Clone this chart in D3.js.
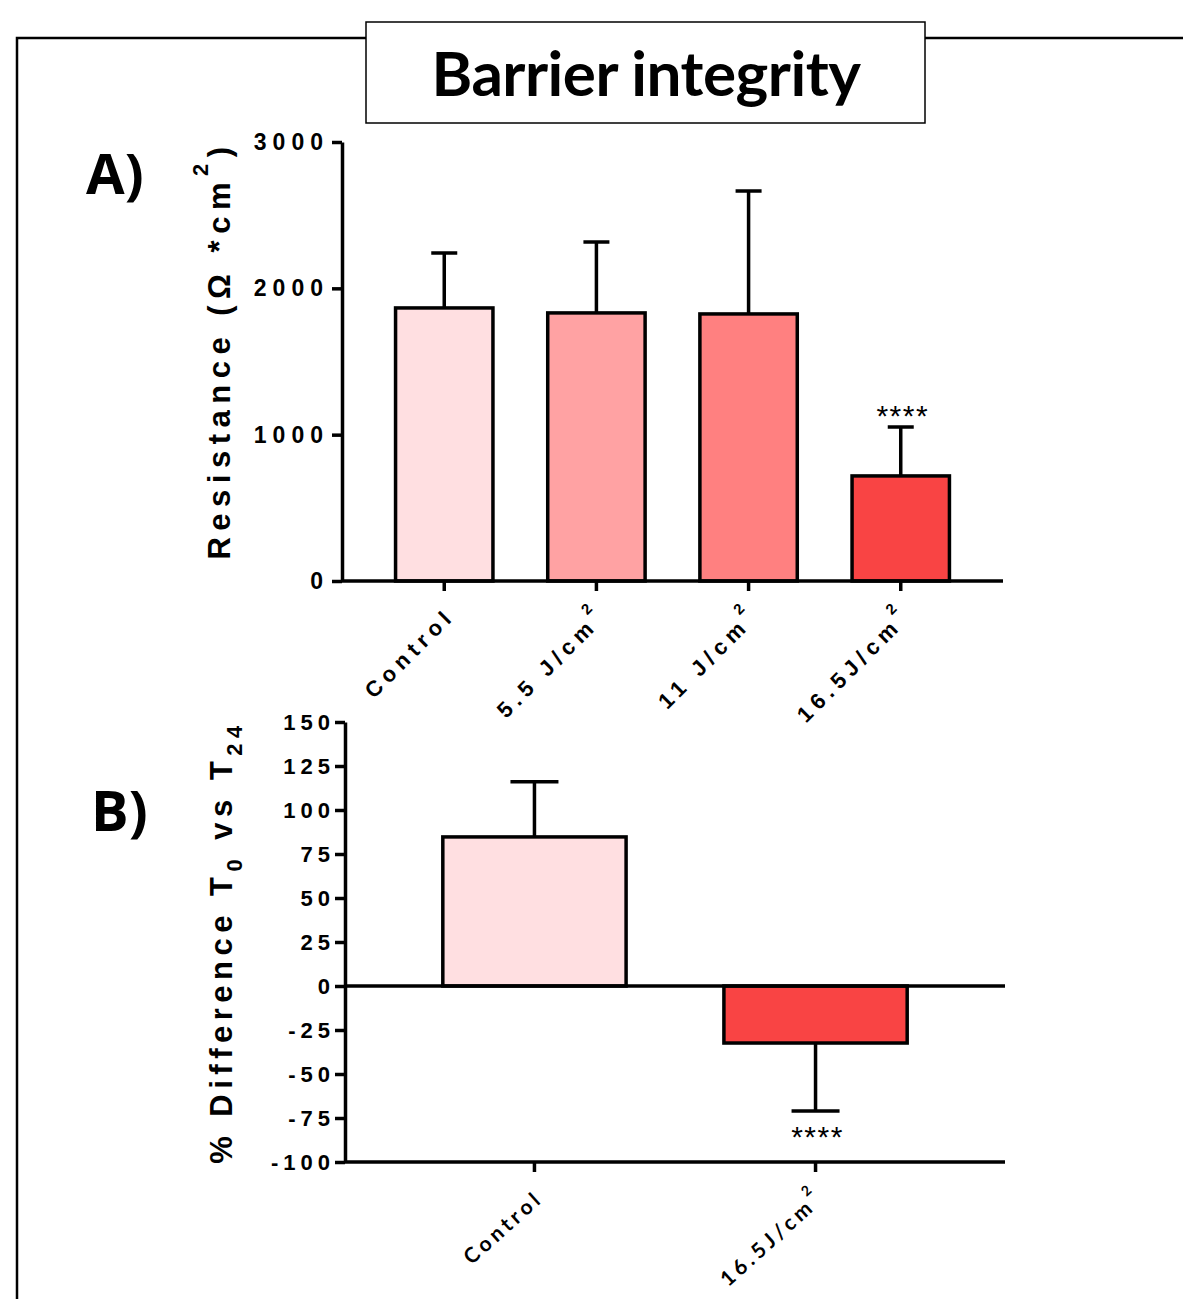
<!DOCTYPE html>
<html>
<head>
<meta charset="utf-8">
<script src="https://cdn.jsdelivr.net/npm/d3@7"></script>
<style>
  body { margin: 0; background: #fff; }
  svg { display: block; }
  text { fill: #000; }
</style>
</head>
<body>
<script>
// panel A: resistance
var catsA = ["Control", "5.5 J/cm", "11 J/cm", "16.5J/cm"];
var supA = ["", "2", "2", "2"];
var meanA = [1866, 1832, 1825, 718];
var errA = [2242, 2317, 2666, 1053];
var colorsA = ["#ffdfe1", "#ffa2a3", "#ff8080", "#f94444"];
var starsA = ["", "", "", "****"];
var ticksA = [0, 1000, 2000, 3000];

// panel B: % difference
var catsB = ["Control", "16.5J/cm"];
var supB = ["", "2"];
var meanB = [84.7, -32.4];
var errB = [116, -71];
var colorsB = ["#ffdfe1", "#f94444"];
var starsB = ["", "****"];
var ticksB = [-100, -75, -50, -25, 0, 25, 50, 75, 100, 125, 150];

var W = 1183, H = 1299;
var svg = d3.select("body").append("svg")
    .attr("width", W)
    .attr("height", H);

// frame + title box
svg.append("path")
    .attr("d", "M17," + H + " L17,38 L366,38 M925,38 L" + W + ",38")
    .attr("fill", "none")
    .attr("stroke", "#000")
    .attr("stroke-width", 2.5);
svg.append("rect")
    .attr("x", 366).attr("y", 22)
    .attr("width", 559).attr("height", 101)
    .attr("fill", "#fff")
    .attr("stroke", "#000")
    .attr("stroke-width", 1.5);
svg.append("text")
    .attr("x", 646).attr("y", 96)
    .attr("text-anchor", "middle")
    .style("font-family", "Lato")
    .style("font-weight", "bold")
    .style("font-size", "62px")
    .style("letter-spacing", "-0.5px")
    .text("Barrier integrity");

svg.append("text").attr("x", 86).attr("y", 194)
    .style("font-family", "Open Sans").style("font-weight", "bold").style("font-size", "56px")
    .text("A)");
svg.append("text").attr("x", 91).attr("y", 831)
    .style("font-family", "Open Sans").style("font-weight", "bold").style("font-size", "56px")
    .text("B)");

function styleAxis(g) {
    g.select(".domain").attr("stroke-width", 3.5);
    g.selectAll(".tick line").attr("stroke-width", 3.5);
}

// ---------- panel A ----------
var xA = d3.scaleBand().domain(catsA).range([342, 1003]).paddingInner(0.36).paddingOuter(0.352);
var yA = d3.scaleLinear().domain([0, 3000]).range([581, 142]);

var gA = svg.append("g");

gA.selectAll(".bar").data(catsA).enter().append("rect")
    .attr("x", d => xA(d))
    .attr("y", (d, i) => yA(meanA[i]))
    .attr("width", xA.bandwidth())
    .attr("height", (d, i) => yA(0) - yA(meanA[i]))
    .attr("fill", (d, i) => colorsA[i])
    .attr("stroke", "#000")
    .attr("stroke-width", 3.5);

var capA = 26;
gA.selectAll(".err").data(catsA).enter().append("path")
    .attr("d", (d, i) => {
        var cx = xA(d) + xA.bandwidth() / 2;
        return "M" + cx + "," + yA(meanA[i]) + " V" + yA(errA[i]) +
            " M" + (cx - capA / 2) + "," + yA(errA[i]) + " H" + (cx + capA / 2);
    })
    .attr("stroke", "#000")
    .attr("stroke-width", 3.5)
    .attr("fill", "none");

gA.selectAll(".star").data(catsA).enter().append("text")
    .attr("x", d => xA(d) + xA.bandwidth() / 2 + 2)
    .attr("y", (d, i) => yA(errA[i]) - 1)
    .attr("text-anchor", "middle")
    .style("font-family", "Liberation Sans")
    .style("font-size", "30px")
    .style("letter-spacing", "1.5px")
    .text((d, i) => starsA[i]);

var axA = gA.append("g")
    .attr("transform", "translate(342,0)")
    .call(d3.axisLeft(yA).tickValues(ticksA).tickFormat(d => String(d))
        .tickSize(10).tickSizeOuter(0).tickPadding(3));
styleAxis(axA);
axA.selectAll(".tick text")
    .style("font-family", "Liberation Sans").style("font-weight", "bold")
    .style("font-size", "23px").style("letter-spacing", "6px");

var axAx = gA.append("g")
    .attr("transform", "translate(0,581)")
    .call(d3.axisBottom(xA).tickSize(10).tickSizeOuter(0));
styleAxis(axAx);
axAx.select(".domain").attr("d", "M342,0 H1003");
axAx.selectAll(".tick text").remove();

gA.selectAll(".xlab").data(catsA).enter().append("text")
    .attr("transform", d => "translate(" + (xA(d) + xA.bandwidth() / 2 + 12) + ",617) rotate(-45)")
    .attr("text-anchor", "end")
    .style("font-family", "Liberation Sans").style("font-weight", "bold")
    .style("font-size", "22px").style("letter-spacing", "5.5px")
    .each(function (d, i) {
        var t = d3.select(this);
        t.append("tspan").text(d);
        if (supA[i]) t.append("tspan").attr("dy", -16).style("font-size", "15px").text(supA[i]);
    });

var titleA = gA.append("text")
    .attr("transform", "translate(230,350) rotate(-90)")
    .attr("text-anchor", "middle")
    .style("font-family", "Liberation Sans").style("font-weight", "bold")
    .style("font-size", "31px").style("letter-spacing", "6.5px");
titleA.append("tspan").text("Resistance (Ω *cm");
titleA.append("tspan").attr("dy", -22).style("font-size", "22px").text("2");
titleA.append("tspan").attr("dy", 22).text(")");

// ---------- panel B ----------
var xB = d3.scaleBand().domain(catsB).range([345, 1005]).paddingInner(0.348).paddingOuter(0.348);
var yB = d3.scaleLinear().domain([-100, 150]).range([1162, 722]);

var gB = svg.append("g");

gB.selectAll(".bar").data(catsB).enter().append("rect")
    .attr("x", d => xB(d))
    .attr("y", (d, i) => Math.min(yB(meanB[i]), yB(0)))
    .attr("width", xB.bandwidth())
    .attr("height", (d, i) => Math.abs(yB(0) - yB(meanB[i])))
    .attr("fill", (d, i) => colorsB[i])
    .attr("stroke", "#000")
    .attr("stroke-width", 3.5);

var capB = 48;
gB.selectAll(".err").data(catsB).enter().append("path")
    .attr("d", (d, i) => {
        var cx = xB(d) + xB.bandwidth() / 2;
        return "M" + cx + "," + yB(meanB[i]) + " V" + yB(errB[i]) +
            " M" + (cx - capB / 2) + "," + yB(errB[i]) + " H" + (cx + capB / 2);
    })
    .attr("stroke", "#000")
    .attr("stroke-width", 3.5)
    .attr("fill", "none");

gB.selectAll(".star").data(catsB).enter().append("text")
    .attr("x", d => xB(d) + xB.bandwidth() / 2 + 2)
    .attr("y", (d, i) => yB(errB[i]) + 36)
    .attr("text-anchor", "middle")
    .style("font-family", "Liberation Sans")
    .style("font-size", "30px")
    .style("letter-spacing", "1.5px")
    .text((d, i) => starsB[i]);

// zero line
gB.append("line")
    .attr("x1", 345).attr("x2", 1005)
    .attr("y1", yB(0)).attr("y2", yB(0))
    .attr("stroke", "#000").attr("stroke-width", 3.5);

var axB = gB.append("g")
    .attr("transform", "translate(345,0)")
    .call(d3.axisLeft(yB).tickValues(ticksB).tickFormat(d => String(d))
        .tickSize(10).tickSizeOuter(0).tickPadding(0));
styleAxis(axB);
axB.selectAll(".tick text")
    .style("font-family", "Liberation Sans").style("font-weight", "bold")
    .style("font-size", "22px").style("letter-spacing", "5px");

var axBx = gB.append("g")
    .attr("transform", "translate(0,1162)")
    .call(d3.axisBottom(xB).tickSize(10).tickSizeOuter(0));
styleAxis(axBx);
axBx.select(".domain").attr("d", "M345,0 H1005");
axBx.selectAll(".tick text").remove();

gB.selectAll(".xlab").data(catsB).enter().append("text")
    .attr("transform", d => "translate(" + (xB(d) + xB.bandwidth() / 2 + 10) + ",1200) rotate(-42)")
    .attr("text-anchor", "end")
    .style("font-family", "Lato").style("font-weight", "bold")
    .style("font-size", "21px").style("letter-spacing", "4px")
    .each(function (d, i) {
        var t = d3.select(this);
        t.append("tspan").text(d);
        if (supB[i]) t.append("tspan").attr("dy", -15).style("font-size", "14px").text(supB[i]);
    });

var titleB = gB.append("text")
    .attr("transform", "translate(232,942) rotate(-90)")
    .attr("text-anchor", "middle")
    .style("font-family", "Liberation Sans").style("font-weight", "bold")
    .style("font-size", "31px").style("letter-spacing", "5.5px");
titleB.append("tspan").text("% Difference T");
titleB.append("tspan").attr("dy", 10).style("font-size", "22px").text("0");
titleB.append("tspan").attr("dy", -10).text(" vs T");
titleB.append("tspan").attr("dy", 10).style("font-size", "22px").text("24");
</script>
</body>
</html>
